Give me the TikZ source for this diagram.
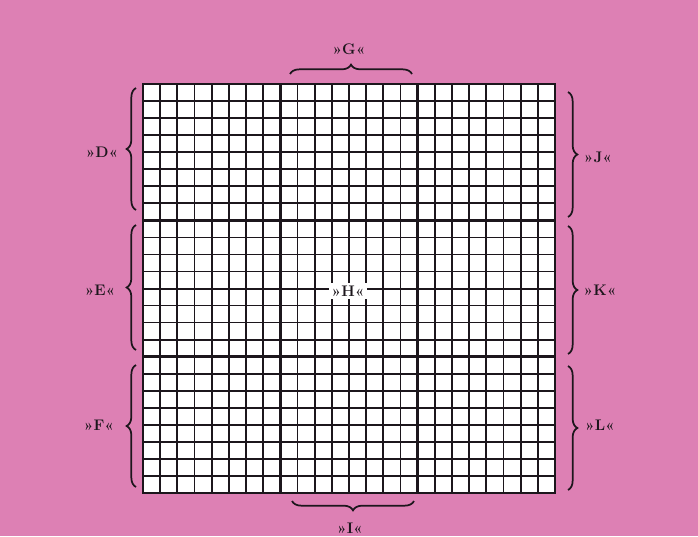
\documentclass[tikz,border=0pt]{standalone}
\usepackage{fontspec}
\usetikzlibrary{decorations.pathreplacing}
\definecolor{bgpink}{RGB}{221,128,180}
\definecolor{ink}{RGB}{28,22,28}
\begin{document}
\begin{tikzpicture}[x=0.75pt,y=-0.75pt,
  gridline/.style={draw=ink,line width=1.3pt},
  gridmid/.style={draw=ink,line width=1.5pt},
  gridthick/.style={draw=ink,line width=2.1pt},
  bracepath/.style={draw=ink,line width=1.3pt,decorate,decoration={brace,amplitude=7pt}},
  lab/.style={text=ink,font=\bfseries\fontsize{11.5}{13}\selectfont,inner sep=1pt}
]
\fill[bgpink] (0,0) rectangle (698,536);
\useasboundingbox (0,0) rectangle (698,536);
\fill[white] (143,84) rectangle (555,493);
\foreach \i in {1,...,23} {
  \pgfmathsetmacro\xx{143+\i*412/24}
  \pgfmathsetmacro\yy{84+\i*409/24}
  \draw[gridline] (\xx,84) -- (\xx,493);
  \draw[gridline] (143,\yy) -- (555,\yy);
}
\foreach \i in {4,12,20} {
  \pgfmathsetmacro\xx{143+\i*412/24}
  \pgfmathsetmacro\yy{84+\i*409/24}
  \draw[gridmid] (\xx,84) -- (\xx,493);
  \draw[gridmid] (143,\yy) -- (555,\yy);
}
\foreach \i in {8,16} {
  \pgfmathsetmacro\xx{143+\i*412/24}
  \pgfmathsetmacro\yy{84+\i*409/24}
  \draw[gridthick] (\xx,84) -- (\xx,493);
  \draw[gridthick] (143,\yy) -- (555,\yy);
}
\draw[gridthick] (143,84) rectangle (555,493);

% braces
\coordinate (g1) at (290,74); \coordinate (g2) at (412,74);
\coordinate (i1) at (414,501); \coordinate (i2) at (292,501);
\coordinate (d1) at (136,210); \coordinate (d2) at (136,88);
\coordinate (e1) at (136,350); \coordinate (e2) at (136,225);
\coordinate (f1) at (136,487); \coordinate (f2) at (136,365);
\coordinate (j1) at (568,92); \coordinate (j2) at (568,217);
\coordinate (k1) at (568,226); \coordinate (k2) at (568,354);
\coordinate (l1) at (568,366); \coordinate (l2) at (568,490);
\draw[bracepath] (g1) -- (g2);
\draw[bracepath] (i1) -- (i2);
\draw[bracepath] (d1) -- (d2);
\draw[bracepath] (e1) -- (e2);
\draw[bracepath] (f1) -- (f2);
\draw[bracepath] (j1) -- (j2);
\draw[bracepath] (k1) -- (k2);
\draw[bracepath] (l1) -- (l2);

% labels
\node[lab] (G) at (349,49) {»G«};
\node[lab] (I) at (350,528) {»I«};
\node[lab] (D) at (102,152) {»D«};
\node[lab] (E) at (100,290) {»E«};
\node[lab] (F) at (99,425) {»F«};
\node[lab] (J) at (598,157) {»J«};
\node[lab] (K) at (600,290) {»K«};
\node[lab] (L) at (600,425) {»L«};
\node[lab,fill=white,inner sep=2pt] (H) at (348,291) {»H«};
\end{tikzpicture}
\end{document}
